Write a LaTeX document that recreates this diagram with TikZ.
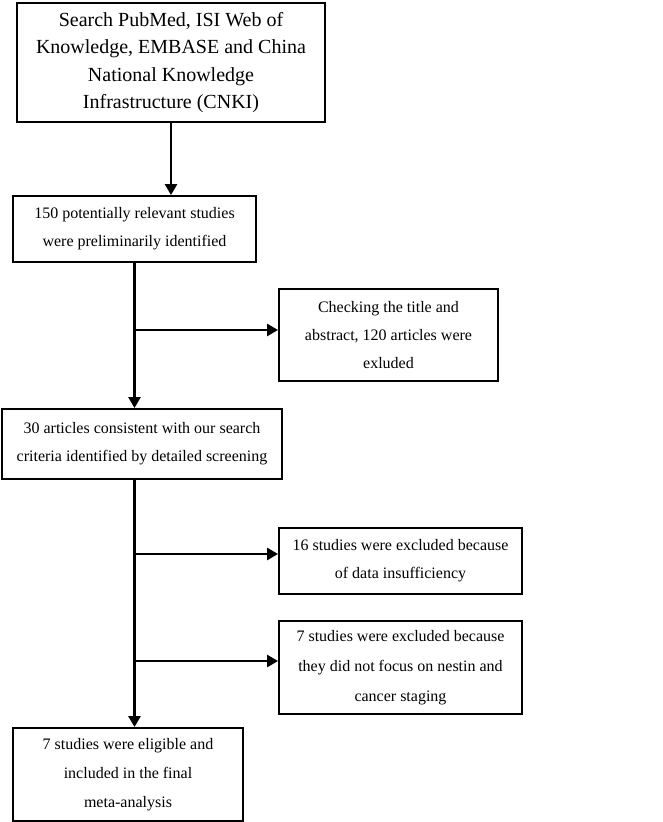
\documentclass[tikz,border=0pt]{standalone}
\usepackage{fontspec}
\setmainfont{Liberation Serif}
\usetikzlibrary{arrows.meta}
\begin{document}
\begin{tikzpicture}[x=1pt,y=-1pt,
  box/.style={draw=black, line width=1.9pt, inner sep=0pt, align=center,
    font=\fontsize{16}{28}\selectfont},
  conn/.style={line width=2.6pt},
  arr/.style={conn, -{Triangle[length=11pt,width=12pt]}}]
\useasboundingbox (0,0) rectangle (662,822);
\node[box, minimum width=308pt, minimum height=119pt, font=\fontsize{20}{27.5}\selectfont] (b1) at (171,62.5)
  {Search PubMed, ISI Web of\\Knowledge, EMBASE and China\\National Knowledge\\Infrastructure (CNKI)};
\node[box, minimum width=243pt, minimum height=66pt] (b2) at (134.5,229)
  {150 potentially relevant studies\\were preliminarily identified};
\node[box, minimum width=219pt, minimum height=92pt] (b3) at (388.5,335)
  {Checking the title and\\abstract, 120 articles were\\exluded};
\node[box, minimum width=280pt, minimum height=70pt] (b4) at (142,444)
  {30 articles consistent with our search\\criteria identified by detailed screening};
\node[box, minimum width=243pt, minimum height=66pt] (b5) at (400.5,561)
  {16 studies were excluded because\\of data insufficiency};
\node[box, minimum width=243pt, minimum height=93pt, font=\fontsize{16}{30}\selectfont] (b6) at (400.5,667.5)
  {7 studies were excluded because\\they did not focus on nestin and\\cancer staging};
\node[box, minimum width=230pt, minimum height=93pt, font=\fontsize{16}{29}\selectfont] (b7) at (128,774.5)
  {7 studies were eligible and\\included in the final\\meta-analysis};
\coordinate (s2) at (134.5,262);
\coordinate (s4) at (134.5,479);
\coordinate (j3) at (134.5,330);
\coordinate (j5) at (134.5,554);
\coordinate (j6) at (134.5,661);
\draw[arr] (b1.south) -- (b1.south |- b2.north);
\draw[arr] (s2) -- (s2 |- b4.north);
\draw[arr] (j3) -- (j3 -| b3.west);
\draw[arr] (s4) -- (s4 |- b7.north);
\draw[arr] (j5) -- (j5 -| b5.west);
\draw[arr] (j6) -- (j6 -| b6.west);
\end{tikzpicture}
\end{document}
